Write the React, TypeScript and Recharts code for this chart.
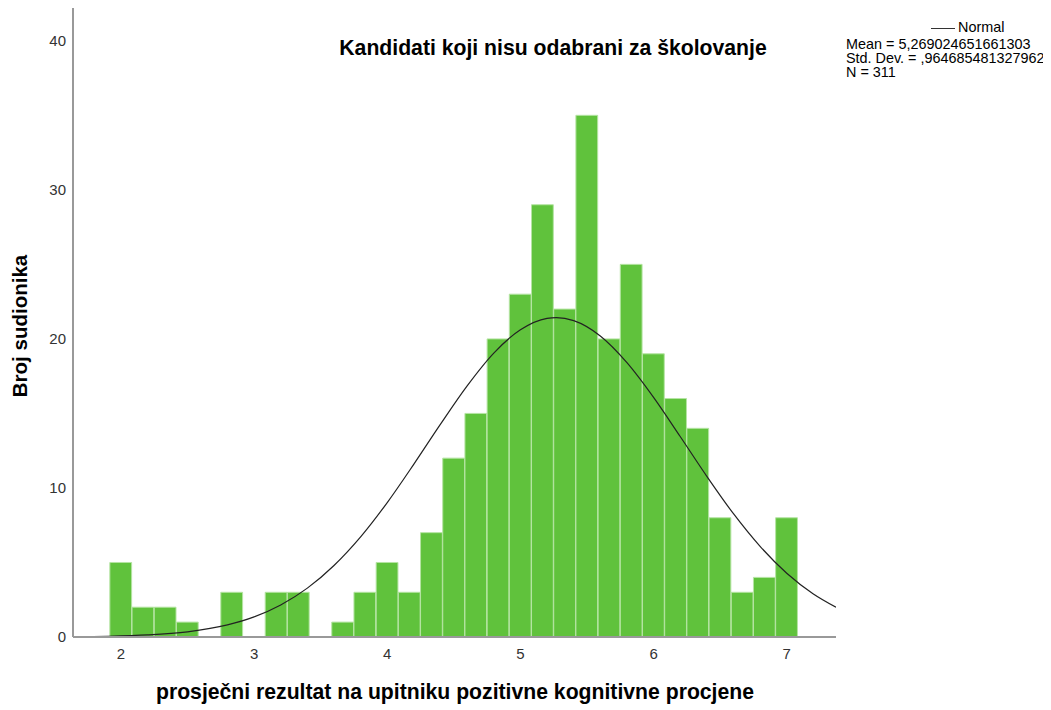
import { Bar, ComposedChart, Line, XAxis, YAxis } from "recharts";

// bin centres (width 1/6) and counts
const binCenters = [2.0, 2.1667, 2.3333, 2.5, 2.6667, 2.8333, 3.0, 3.1667, 3.3333, 3.5, 3.6667, 3.8333, 4.0, 4.1667, 4.3333, 4.5, 4.6667, 4.8333, 5.0, 5.1667, 5.3333, 5.5, 5.6667, 5.8333, 6.0, 6.1667, 6.3333, 6.5, 6.6667, 6.8333, 7.0];
const binCounts = [5, 2, 2, 1, 0, 3, 0, 3, 3, 0, 1, 3, 5, 3, 7, 12, 15, 20, 23, 29, 22, 35, 20, 25, 19, 16, 14, 8, 3, 4, 8];

// fitted normal curve
const curveX = [1.64, 1.9, 2.2, 2.5, 2.8, 3.0, 3.2, 3.4, 3.6, 3.8, 4.0, 4.2, 4.4, 4.6, 4.8, 5.0, 5.2, 5.27, 5.4, 5.6, 5.8, 6.0, 6.2, 6.4, 6.6, 6.8, 7.0, 7.2, 7.37];
const curveY = [0.02, 0.05, 0.14, 0.35, 0.81, 1.35, 2.15, 3.28, 4.8, 6.72, 9.02, 11.6, 14.28, 16.85, 19.05, 20.61, 21.38, 21.43, 21.23, 20.2, 18.41, 16.08, 13.45, 10.78, 8.27, 6.08, 4.28, 2.89, 2.0];

const xTicks = [2, 3, 4, 5, 6, 7];
const yTicks = [0, 10, 20, 30, 40];

const legendLines = ["Mean = 5,269024651661303", "Std. Dev. = ,964685481327962", "N = 311"];

const bins = binCenters.map((x, i) => ({ x, count: binCounts[i] }));
const curve = curveX.map((x, i) => ({ x, y: curveY[i] }));

const W = 1043;
const H = 702;
const margin = { top: 0, right: 215, bottom: 43, left: 0 };
const xDomain: [number, number] = [1.64, 7.37];
const barSize = (W - 65 - margin.right) / (xDomain[1] - xDomain[0]) / 6 - 0.4;

const font = "'Liberation Sans', Arial, sans-serif";
const tick = { fill: "#333", fontSize: 15, fontFamily: font };
const axisLine = { stroke: "#999", strokeWidth: 2 };

export default function App() {
  return (
    <div style={{ position: "relative", width: W, height: H, fontFamily: font, color: "#000" }}>
      <ComposedChart width={W} height={H} data={bins} margin={margin}>
        <XAxis
          type="number"
          dataKey="x"
          domain={xDomain}
          ticks={xTicks}
          allowDataOverflow
          height={30}
          tickSize={0}
          tickMargin={11}
          tick={tick}
          axisLine={axisLine}
        />
        <XAxis xAxisId="curve" type="number" dataKey="x" domain={xDomain} allowDataOverflow hide height={0} />
        <YAxis
          type="number"
          domain={[0, 42.2]}
          ticks={yTicks}
          allowDataOverflow
          width={65}
          tickSize={0}
          tickMargin={7}
          tick={tick}
          axisLine={axisLine}
        />
        <Bar dataKey="count" barSize={barSize} fill="#60c23c" stroke="#b5e4a3" strokeWidth={1} isAnimationActive={false} />
        <Line xAxisId="curve" data={curve} dataKey="y" type="monotone" stroke="#222" strokeWidth={1.2} dot={false} activeDot={false} isAnimationActive={false} />
      </ComposedChart>

      <div style={{ position: "absolute", left: 545, top: 28, transform: "translateX(-50%)", whiteSpace: "nowrap", fontSize: 21.2, lineHeight: "24px", fontWeight: "bold" }}>
        Kandidati koji nisu odabrani za školovanje
      </div>
      <div style={{ position: "absolute", left: 447, top: 672, transform: "translateX(-50%)", whiteSpace: "nowrap", fontSize: 21.2, lineHeight: "24px", fontWeight: "bold" }}>
        prosječni rezultat na upitniku pozitivne kognitivne procjene
      </div>
      <div style={{ position: "absolute", left: 12, top: 318, transform: "translate(-50%, -50%) rotate(-90deg)", whiteSpace: "nowrap", fontSize: 20.5, lineHeight: "24px", fontWeight: "bold" }}>
        Broj sudionika
      </div>

      <div style={{ position: "absolute", left: 923, top: 20, width: 24, height: 0, borderTop: "1.5px solid #333" }} />
      <div style={{ position: "absolute", left: 950, top: 12, fontSize: 14.4, lineHeight: "14px" }}>Normal</div>
      <div style={{ position: "absolute", left: 838, top: 29, fontSize: 14.4, lineHeight: "14px" }}>
        {legendLines.map((s) => (
          <div key={s} style={{ whiteSpace: "nowrap" }}>{s}</div>
        ))}
      </div>
    </div>
  );
}
